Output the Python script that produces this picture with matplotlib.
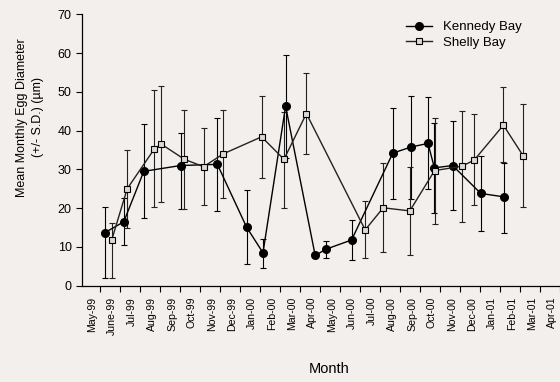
import matplotlib
matplotlib.use("Agg")
import matplotlib.pyplot as plt
import numpy as np

# Month labels on the x axis (position i = label i)
months = ['May-99', 'June-99', 'Jul-99', 'Aug-99', 'Sep-99', 'Oct-99', 'Nov-99', 'Dec-99',
          'Jan-00', 'Feb-00', 'Mar-00', 'Apr-00', 'May-00', 'Jun-00', 'Jul-00', 'Aug-00',
          'Sep-00', 'Oct-00', 'Nov-00', 'Dec-00', 'Jan-01', 'Feb-01', 'Mar-01', 'Apr-01']

# Kennedy Bay: sampling time (in months from May-99), mean, upper and lower S.D. limits
kb_time = [0.65, 1.59, 2.59, 4.43, 6.27, 7.73, 8.55, 9.68, 11.16, 11.69, 12.98,
           15.04, 15.97, 16.80, 17.12, 18.03, 19.44, 20.62]
kb_mean = [13.7, 16.5, 29.5, 31.0, 31.3, 15.1, 8.5, 46.3, 7.8, 9.4, 11.8,
           34.2, 35.8, 36.7, 30.4, 31.0, 23.8, 22.9]
kb_hi = [20.4, 22.7, 41.8, 39.4, 43.2, 24.6, 12.1, 59.5, 7.8, 11.6, 16.9,
         45.9, 48.8, 48.6, 42.0, 42.6, 33.5, 31.7]
kb_lo = [2.1, 10.5, 17.4, 19.8, 19.3, 5.5, 4.7, 33.0, 7.8, 7.1, 6.6,
         22.4, 22.3, 24.9, 18.7, 19.5, 14.0, 13.7]

# Shelly Bay
sb_time = [0.98, 1.76, 3.12, 3.47, 4.62, 5.58, 6.56, 8.48, 9.60, 10.72, 13.66,
           14.56, 15.89, 17.13, 18.49, 19.11, 20.57, 21.56]
sb_mean = [11.7, 25.0, 35.3, 36.5, 32.6, 30.7, 34.0, 38.4, 32.6, 44.4, 14.4,
           20.1, 19.3, 29.7, 30.8, 32.4, 41.4, 33.5]
sb_hi = [16.3, 34.9, 50.4, 51.4, 45.4, 40.7, 45.4, 48.9, 44.9, 54.9, 21.8,
         31.6, 30.7, 43.2, 45.1, 44.2, 51.2, 46.8]
sb_lo = [2.1, 14.8, 20.4, 21.5, 19.8, 20.8, 22.6, 27.9, 20.0, 34.0, 7.2,
         8.6, 7.8, 15.9, 16.5, 20.8, 31.8, 20.3]

plt.rcParams['font.family'] = ['Liberation Sans', 'DejaVu Sans']

bg = '#f3efec'
fig = plt.figure(figsize=(5.6, 3.82), dpi=100, facecolor=bg)
ax = fig.add_axes([0.1464, 0.252, 0.8536, 0.7106], facecolor=bg)

kb_mean = np.array(kb_mean)
sb_mean = np.array(sb_mean)
kb_err = [kb_mean - np.array(kb_lo), np.array(kb_hi) - kb_mean]
sb_err = [sb_mean - np.array(sb_lo), np.array(sb_hi) - sb_mean]

kb = ax.errorbar(kb_time, kb_mean, yerr=kb_err, color='black', lw=1, elinewidth=0.8,
                 capsize=2.5, capthick=0.8, marker='o', ms=5.5, mfc='black', mec='black',
                 label='Kennedy Bay', zorder=3)
sb = ax.errorbar(sb_time, sb_mean, yerr=sb_err, color='#222222', lw=1, elinewidth=0.8,
                 capsize=2.5, capthick=0.8, marker='s', ms=5, mfc='#d9d9d9', mec='black',
                 mew=0.8, label='Shelly Bay', zorder=3)

ax.set_xlim(-0.5, 23.3)
ax.set_ylim(0, 70)
ax.set_yticks(range(0, 71, 10))
ax.set_xticks(np.arange(len(months)) + 0.4)
ax.set_xticklabels([])
ax.set_xticks(np.arange(len(months)), minor=True)
ax.set_xticklabels(months, minor=True, rotation=90, fontsize=7.6)
ax.tick_params(axis='x', which='minor', length=0, pad=8)
ax.tick_params(axis='x', which='major', length=4, direction='out', width=0.8)
ax.tick_params(axis='y', length=4, width=0.8, labelsize=9)

for s in ['top', 'right']:
    ax.spines[s].set_visible(False)
ax.spines['left'].set_linewidth(0.9)
ax.spines['bottom'].set_linewidth(0.9)

ax.set_ylabel('Mean Monthly Egg Diameter\n(+/- S.D.) (\u00b5m)', fontsize=9, linespacing=1.45)
ax.yaxis.set_label_coords(-0.08, 0.62)
ax.set_xlabel('Month', fontsize=10.5)
ax.xaxis.set_label_coords(0.517, -0.28)

ax.legend(handles=[kb[0], sb[0]], labels=['Kennedy Bay', 'Shelly Bay'],
          loc='upper left', bbox_to_anchor=(0.678, 0.975), frameon=False, fontsize=9.5,
          handlelength=2.0, handletextpad=0.8, labelspacing=0.25,
          borderpad=0, borderaxespad=0)

fig.savefig('out.png', dpi=100, facecolor=bg)
